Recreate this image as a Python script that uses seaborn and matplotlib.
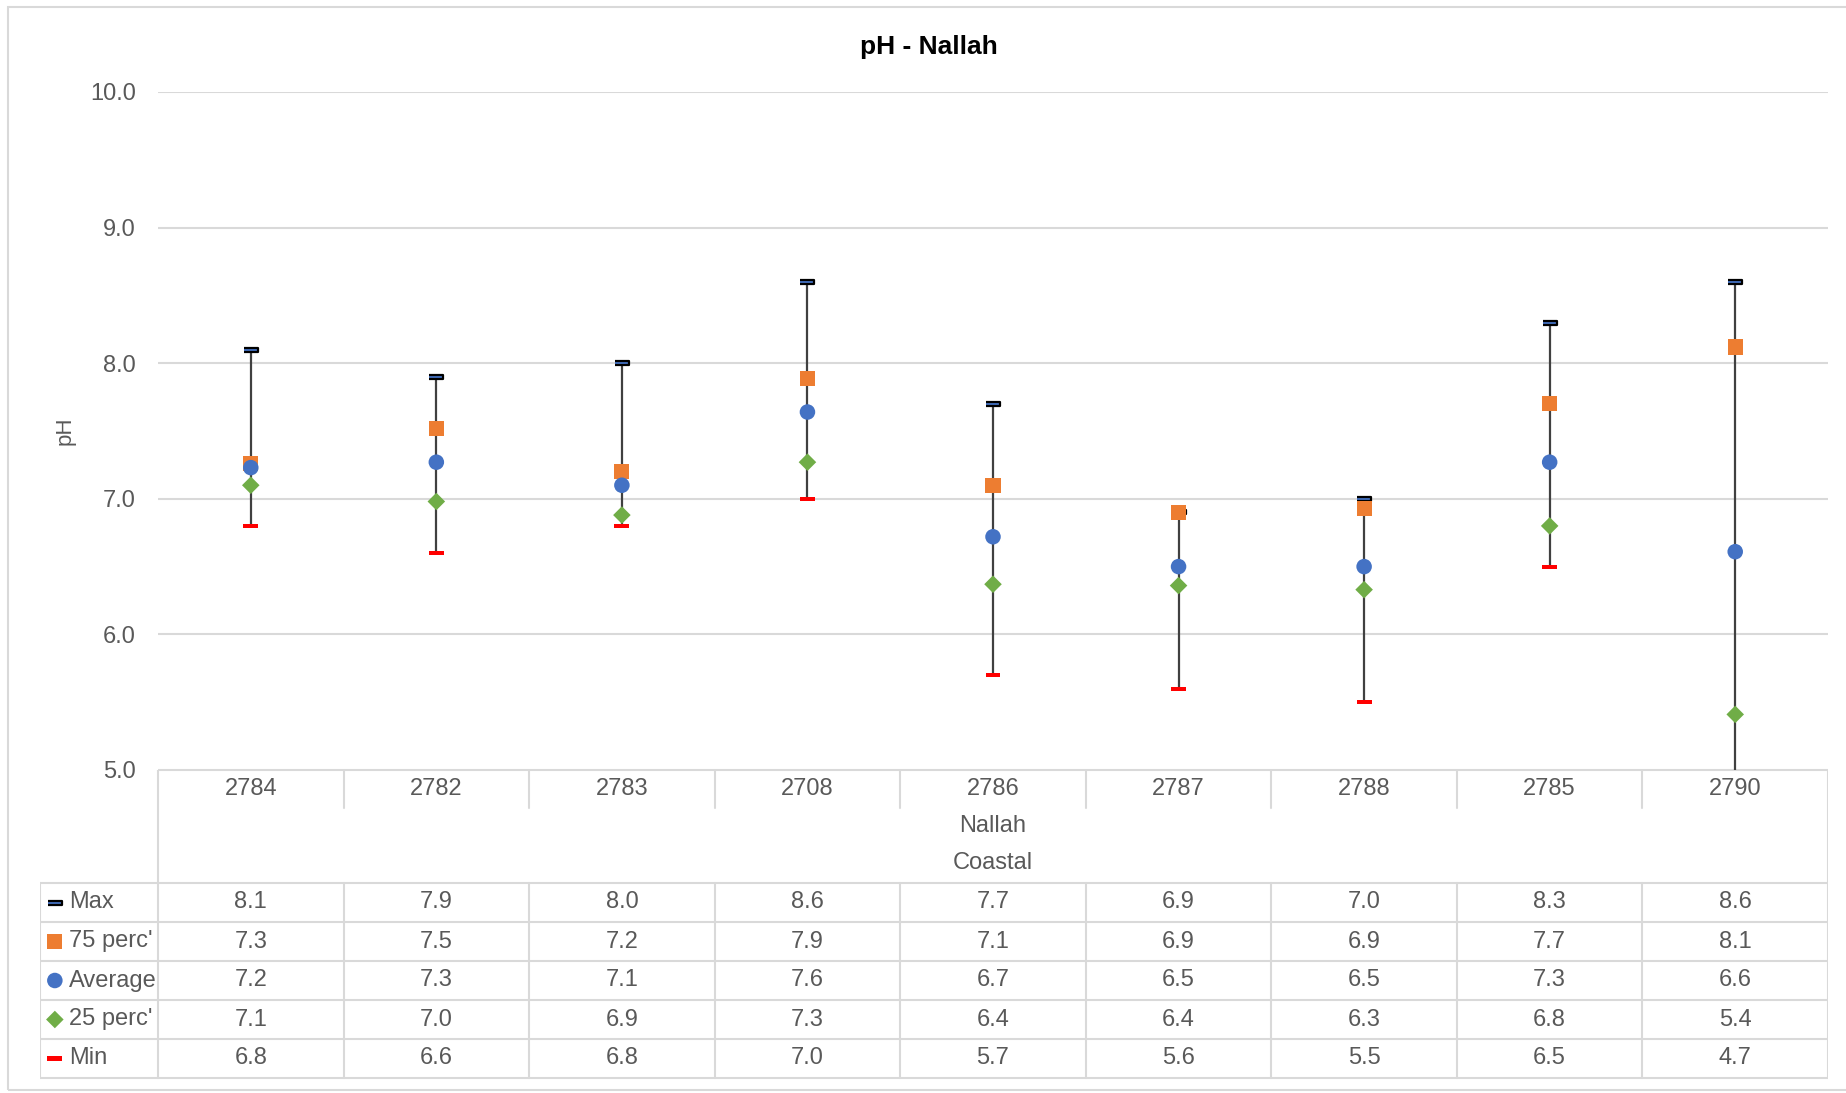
import matplotlib.pyplot as plt
import matplotlib.patches as patches
import numpy as np
import seaborn as sns

# data
stations = ['2784', '2782', '2783', '2708', '2786', '2787', '2788', '2785', '2790']
ph_max = [8.1, 7.9, 8.0, 8.6, 7.7, 6.9, 7.0, 8.3, 8.6]
ph_p75 = [7.26, 7.52, 7.2, 7.89, 7.1, 6.9, 6.93, 7.7, 8.12]
ph_avg = [7.23, 7.27, 7.1, 7.64, 6.72, 6.5, 6.5, 7.27, 6.61]
ph_p25 = [7.1, 6.98, 6.88, 7.27, 6.37, 6.36, 6.33, 6.8, 5.41]
ph_min = [6.8, 6.6, 6.8, 7.0, 5.7, 5.6, 5.5, 6.5, 4.7]
group_labels = ['Nallah', 'Coastal']

TXT = '#595959'
GRID = '#D9D9D9'
dash = [(-1, -0.28), (1, -0.28), (1, 0.28), (-1, 0.28)]

series = [
    ('Max', ph_max, dict(marker=dash, color='#4472C4', edgecolor='black', linewidth=1.6, s=115)),
    ("75 perc'", ph_p75, dict(marker='s', color='#ED7D31', edgecolor='none', s=120)),
    ('Average', ph_avg, dict(marker='o', color='#4472C4', edgecolor='none', s=125)),
    ("25 perc'", ph_p25, dict(marker='D', color='#70AD47', edgecolor='none', s=80)),
    ('Min', ph_min, dict(marker=dash, color='#FF0000', edgecolor='none', linewidth=0, s=115)),
]

sns.set_style('white')
plt.rcParams['font.family'] = ['Liberation Sans Narrow', 'Liberation Sans', 'DejaVu Sans']

W, H = 1846, 1093
def frame(x0, y0, x1, y1):
    return [x0 / W, 1 - y1 / H, (x1 - x0) / W, (y1 - y0) / H]

fig = plt.figure(figsize=(W / 100, H / 100), dpi=100)
fig.patches.append(patches.Rectangle((8 / W, 1 - 1090 / H), 1.0, 1083 / H, transform=fig.transFigure,
                                     facecolor='none', edgecolor=GRID, linewidth=1.5))

ax = fig.add_axes(frame(158, 92, 1828, 770))
x = np.arange(len(stations))
ax.vlines(x, ph_min, ph_max, color='#404040', linewidth=1.6, zorder=2)
for name, vals, kw in series:
    sns.scatterplot(x=x, y=vals, ax=ax, zorder=3, legend=False, **kw)

ax.set_xlim(-0.5, len(stations) - 0.5)
ax.set_ylim(5, 10)
ax.set_yticks(np.arange(5, 10.5, 1))
ax.set_yticklabels([f'{v:.1f}' for v in np.arange(5, 10.5, 1)])
ax.set_xticks([])
ax.grid(axis='y', color=GRID, linewidth=1.5)
ax.set_axisbelow(True)
for s in ax.spines.values():
    s.set_visible(False)
ax.tick_params(axis='y', length=0, labelsize=17, labelcolor=TXT, pad=16)
ax.set_ylabel('pH', fontsize=16, color=TXT, labelpad=10)
fig.text(929 / W, 1 - 47 / H, 'pH - Nallah', ha='center', va='center', fontsize=19,
         fontweight='bold', color='black')

# data table under the axis
tab = fig.add_axes(frame(40, 770, 1828, 1080))
n = len(stations)
left = -0.5 - (158 - 40) / ((1828 - 158) / n)
tab.set_xlim(left, n - 0.5)
tab.set_ylim(310, 0)
tab.axis('off')
lw = 1.5
hdr, grp, rowh = 38, 113, 39
# header frame
tab.plot([-0.5, n - 0.5], [0, 0], color=GRID, lw=lw)
tab.plot([-0.5, -0.5], [0, grp], color=GRID, lw=lw)
tab.plot([n - 0.5, n - 0.5], [0, grp], color=GRID, lw=lw)
for i in range(1, n):
    tab.plot([i - 0.5, i - 0.5], [0, hdr], color=GRID, lw=lw)
for i, st in enumerate(stations):
    tab.text(i, hdr / 2, st, ha='center', va='center', fontsize=17, color=TXT)
for k, g in enumerate(group_labels):
    tab.text((n - 1) / 2, hdr + 18 + 37 * k, g, ha='center', va='center', fontsize=17, color=TXT)
# body
nrow = len(series)
for r in range(nrow + 1):
    tab.plot([left, n - 0.5], [grp + r * rowh] * 2, color=GRID, lw=lw)
for c in [left] + [i - 0.5 for i in range(n + 1)]:
    tab.plot([c, c], [grp, grp + nrow * rowh], color=GRID, lw=lw)
for r, (name, vals, kw) in enumerate(series):
    yc = grp + (r + 0.5) * rowh
    tab.scatter([left + 0.08], [yc], clip_on=False, zorder=3, **kw)
    tab.text(left + 0.155, yc, name, ha='left', va='center', fontsize=17, color=TXT)
    for i, v in enumerate(vals):
        tab.text(i, yc, f'{v:.1f}', ha='center', va='center', fontsize=17, color=TXT)

fig.savefig('out.png', dpi=100)
